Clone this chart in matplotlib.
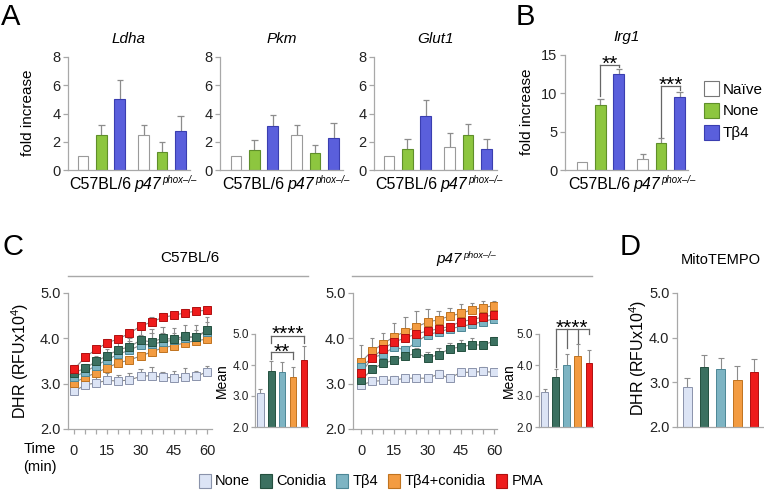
import matplotlib
matplotlib.use('Agg')
import matplotlib.pyplot as plt
import numpy as np
from matplotlib.patches import Patch
from matplotlib.lines import Line2D

plt.rcParams['font.family'] = ['Liberation Sans', 'DejaVu Sans']
plt.rcParams['mathtext.fontset'] = 'custom'
plt.rcParams['mathtext.rm'] = 'Liberation Sans'
plt.rcParams['mathtext.it'] = 'Liberation Sans:italic'
plt.rcParams['mathtext.bf'] = 'Liberation Sans:bold'

# ---------------- data ----------------
groups = ['C57BL/6', 'p47', 'phox–/–']   # second group: p47 with superscript phox–/–
treat_A = ['Naïve', 'None', 'Tβ4']
ldha_mean = [1.0, 2.5, 5.0, 2.5, 1.3, 2.75]
ldha_err = [0.0, 0.7, 1.4, 0.7, 0.7, 1.05]
pkm_mean = [1.0, 1.4, 3.15, 2.5, 1.2, 2.25]
pkm_err = [0.0, 0.7, 0.75, 0.7, 0.55, 1.05]
glut1_mean = [1.0, 1.5, 3.8, 1.65, 2.5, 1.5]
glut1_err = [0.0, 0.7, 1.15, 0.95, 0.75, 0.7]
irg1_mean = [1.0, 8.5, 12.5, 1.5, 3.5, 9.5]
irg1_err = [0.0, 0.7, 0.7, 0.65, 0.65, 0.7]

treat_C = ['None', 'Conidia', 'Tβ4', 'Tβ4+conidia', 'PMA']
time_min = [0, 5, 10, 15, 20, 25, 30, 35, 40, 45, 50, 55, 60]
time_ticks = [0, 15, 30, 45, 60]

c57_none = [2.83, 2.97, 3.02, 3.07, 3.06, 3.08, 3.16, 3.18, 3.14, 3.13, 3.14, 3.16, 3.26]
c57_con = [3.24, 3.34, 3.49, 3.62, 3.75, 3.81, 3.96, 3.92, 4.00, 3.98, 4.05, 4.02, 4.19]
c57_tb4 = [3.15, 3.26, 3.40, 3.53, 3.65, 3.74, 3.85, 3.87, 3.92, 3.96, 4.00, 4.04, 4.15]
c57_tbc = [3.02, 3.14, 3.24, 3.35, 3.46, 3.52, 3.61, 3.70, 3.79, 3.84, 3.90, 3.95, 3.98]
c57_pma = [3.32, 3.58, 3.76, 3.90, 3.99, 4.11, 4.27, 4.36, 4.46, 4.51, 4.56, 4.60, 4.62]
c57_none_e = [0.06, 0.08, 0.16, 0.16, 0.13, 0.15, 0.16, 0.19, 0.11, 0.15, 0.20, 0.12, 0.13]
c57_con_e = [0.10, 0.10, 0.12, 0.15, 0.18, 0.20, 0.25, 0.28, 0.25, 0.25, 0.25, 0.28, 0.28]
c57_tb4_e = [0.08, 0.08, 0.10, 0.12, 0.15, 0.20, 0.22, 0.25, 0.20, 0.15, 0.15, 0.15, 0.20]
c57_tbc_e = [0.08, 0.06, 0.06, 0.06, 0.06, 0.05, 0.06, 0.06, 0.05, 0.05, 0.05, 0.05, 0.05]
c57_pma_e = [0.10, 0.06, 0.08, 0.08, 0.06, 0.05, 0.06, 0.12, 0.10, 0.08, 0.08, 0.07, 0.06]

p47_none = [2.97, 3.05, 3.07, 3.08, 3.12, 3.12, 3.12, 3.21, 3.12, 3.25, 3.25, 3.27, 3.25]
p47_con = [3.07, 3.32, 3.45, 3.52, 3.61, 3.67, 3.57, 3.64, 3.77, 3.81, 3.86, 3.85, 3.94]
p47_tb4 = [3.37, 3.57, 3.65, 3.81, 3.74, 3.92, 4.08, 4.14, 4.21, 4.26, 4.31, 4.37, 4.43]
p47_tbc = [3.48, 3.72, 3.88, 4.04, 4.15, 4.25, 4.36, 4.41, 4.49, 4.55, 4.63, 4.68, 4.72]
p47_pma = [3.23, 3.57, 3.77, 3.92, 4.01, 4.10, 4.16, 4.21, 4.26, 4.37, 4.41, 4.47, 4.52]
p47_none_e = [0.08, 0.10, 0.08, 0.08, 0.08, 0.08, 0.08, 0.10, 0.08, 0.06, 0.06, 0.10, 0.06]
p47_con_e = [0.10, 0.10, 0.12, 0.10, 0.10, 0.12, 0.12, 0.15, 0.12, 0.15, 0.15, 0.10, 0.10]
p47_tb4_e = [0.10, 0.08, 0.12, 0.10, 0.08, 0.10, 0.08, 0.08, 0.06, 0.06, 0.06, 0.06, 0.06]
p47_tbc_e = [0.37, 0.28, 0.24, 0.29, 0.32, 0.36, 0.29, 0.20, 0.19, 0.20, 0.16, 0.15, 0.11]
p47_pma_e = [0.08, 0.08, 0.08, 0.08, 0.08, 0.07, 0.07, 0.07, 0.07, 0.07, 0.07, 0.07, 0.07]

c57_mean = [3.10, 3.82, 3.77, 3.60, 4.17]
c57_mean_e = [0.12, 0.30, 0.32, 0.33, 0.43]
p47_mean = [3.12, 3.62, 4.00, 4.28, 4.08]
p47_mean_e = [0.09, 0.24, 0.35, 0.40, 0.40]
mito_mean = [2.89, 3.35, 3.30, 3.05, 3.24]
mito_mean_e = [0.20, 0.27, 0.25, 0.32, 0.29]

# ---------------- styles ----------------
W, H = 764, 493
fig = plt.figure(figsize=(W / 100, H / 100), dpi=100)
GREY = '#a8a8a8'
ERR = '#8c8c8c'
A_face = ['white', '#8DC63F', '#5A5FDC']
A_edge = ['#9a9a9a', '#5f8f2a', '#3a3eb0']
C_face = ['#DCE4F5', '#3B7060', '#7DB4C3', '#F39C42', '#EE1C1C']
C_edge = ['#8a93ab', '#24503f', '#4d8796', '#c0731f', '#b01010']


def add_ax(x0, y_top, x1, y_bot):
    return fig.add_axes([x0 / W, 1 - y_bot / H, (x1 - x0) / W, (y_bot - y_top) / H])


def ftext(x, y, s, **kw):
    return fig.text(x / W, 1 - y / H, s, **kw)


def style(ax, ysize=10.5):
    for s in ['top', 'right']:
        ax.spines[s].set_visible(False)
    for s in ['left', 'bottom']:
        ax.spines[s].set_color(GREY)
        ax.spines[s].set_linewidth(0.9)
    ax.tick_params(axis='y', colors=GREY, labelcolor='#222222', length=3.5,
                   width=0.9, labelsize=ysize, pad=2)
    ax.patch.set_alpha(0)


def up_err(ax, x, y, e, half, lw=0.9):
    x = np.asarray(x, float); y = np.asarray(y, float); e = np.asarray(e, float)
    m = e > 0
    ax.vlines(x[m], y[m], y[m] + e[m], color=ERR, lw=lw, zorder=1)
    ax.hlines(y[m] + e[m], x[m] - half, x[m] + half, color=ERR, lw=lw, zorder=1)


def stars(ax, x, yc, s, fs=15):
    ax.annotate(s, xy=(x, yc), xytext=(0, -8.5), textcoords='offset points',
                ha='center', va='baseline', fontsize=fs, annotation_clip=False)


def bracket(ax, xs, bottoms, ytop):
    ax.plot([xs[0], xs[-1]], [ytop, ytop], color='#666666', lw=0.9, clip_on=False)
    for xx, yb in zip(xs, bottoms):
        ax.plot([xx, xx], [yb, ytop], color='#666666', lw=0.9, clip_on=False)


def p47_label(ax, xy, xycoords, dy, fs):
    ax.annotate(groups[1], xy=xy, xycoords=xycoords, xytext=(0, dy),
                textcoords='offset points', ha='right', va='baseline',
                fontsize=fs, style='italic', annotation_clip=False)
    ax.annotate(groups[2], xy=xy, xycoords=xycoords, xytext=(0.6, dy + 0.36 * fs),
                textcoords='offset points', ha='left', va='baseline',
                fontsize=fs * 0.6, style='italic', annotation_clip=False)


pos = np.array([0, 1, 2, 3.3, 4.3, 5.3])
UNIT = 18.4


def bar_panel(x0, x1, y_top, c0, means, errs, ymax, yticks, title):
    ax = add_ax(x0, y_top, x1, 170)
    style(ax)
    left = -(c0 - x0) / UNIT
    right = left + (x1 - x0) / UNIT
    ax.bar(pos, means, width=0.58, color=A_face * 2, edgecolor=A_edge * 2,
           linewidth=0.8, zorder=2)
    up_err(ax, pos, means, errs, 0.17)
    ax.set_xlim(left, right)
    ax.set_ylim(0, ymax)
    ax.set_yticks(yticks)
    ax.set_xticks([])
    ax.annotate(groups[0], xy=(0.92, 0), xycoords=('data', 'axes fraction'),
                xytext=(0, -13.5), textcoords='offset points', ha='center',
                va='baseline', fontsize=11.5, annotation_clip=False)
    p47_label(ax, (4.25, 0), ('data', 'axes fraction'), -13.5, 11.5)
    ax.set_title(title, fontsize=11, style='italic', pad=10)
    return ax


# ---------------- Panel A ----------------
axL = bar_panel(68, 190, 57, 83, ldha_mean, ldha_err, 8, [0, 2, 4, 6, 8], 'Ldha')
axP = bar_panel(220, 343, 57, 236, pkm_mean, pkm_err, 8, [0, 2, 4, 6, 8], 'Pkm')
axG = bar_panel(374, 497, 57, 389, glut1_mean, glut1_err, 8, [0, 2, 4, 6, 8], 'Glut1')
ftext(28, 113, 'fold increase', rotation=90, ha='center', va='center', fontsize=11)

# ---------------- Panel B ----------------
axI = bar_panel(565, 688, 55, 582, irg1_mean, irg1_err, 15, [0, 5, 10, 15], 'Irg1')
ftext(527, 112, 'fold increase', rotation=90, ha='center', va='center', fontsize=11)
bracket(axI, [1, 2], [9.6, 13.4], 13.7)
stars(axI, 1.5, 14.6, '**')
bracket(axI, [4.3, 5.3], [4.3, 10.4], 11.0)
stars(axI, 4.8, 11.9, '***')
hB = [Patch(facecolor=A_face[i], edgecolor=A_edge[i] if i else '#777777', lw=0.8)
      for i in range(3)]
fig.legend(hB, treat_A, loc='upper left', bbox_to_anchor=(704 / W, 1 - 81 / H),
           frameon=False, fontsize=11, handlelength=1.0, handleheight=1.1,
           handletextpad=0.25, labelspacing=0.42, borderaxespad=0, borderpad=0)

# ---------------- Panel C ----------------
def time_panel(x0, x1, t0px, series, errs):
    ax = add_ax(x0, 293, x1, 429)
    style(ax, 10.5)
    scale = 133.0 / 60.0
    left = -(t0px - x0) / scale
    ax.set_xlim(left, left + (x1 - x0) / scale)
    ax.set_ylim(2.0, 5.0)
    ax.set_yticks([2.0, 3.0, 4.0, 5.0])
    ax.set_yticklabels(['2.0', '3.0', '4.0', '5.0'])
    ax.set_xticks(time_ticks)
    ax.set_xticks(time_min, minor=True)
    ax.tick_params(axis='x', which='both', colors=GREY, labelcolor='#222222',
                   length=3.5, width=0.9, labelsize=10.5, pad=7)
    order = [0, 3, 2, 1, 4]
    for k in order:
        up_err(ax, time_min, series[k], errs[k], 1.0, lw=0.8)
    for k in order:
        ax.plot(time_min, series[k], color='#8a8a8a', lw=0.8, zorder=3)
        ax.plot(time_min, series[k], ls='none', marker='s', ms=5.4,
                mfc=C_face[k], mec=C_edge[k], mew=0.7, zorder=4)
    return ax


def mean_panel(x0, x1, means, errs):
    ax = add_ax(x0, 334, x1, 427)
    style(ax, 8.5)
    xs = np.arange(5)
    ax.bar(xs, means, width=0.6, color=C_face, edgecolor=C_edge, linewidth=0.7, zorder=2)
    up_err(ax, xs, means, errs, 0.18, lw=0.8)
    ax.set_xlim(-0.5, 4.37)
    ax.set_ylim(2.0, 5.0)
    ax.set_yticks([2.0, 3.0, 4.0, 5.0])
    ax.set_yticklabels(['2.0', '3.0', '4.0', '5.0'])
    ax.tick_params(axis='y', length=3, pad=1.5)
    ax.set_xticks([])
    return ax


axT1 = time_panel(68, 212, 74,
                  [c57_none, c57_con, c57_tb4, c57_tbc, c57_pma],
                  [c57_none_e, c57_con_e, c57_tb4_e, c57_tbc_e, c57_pma_e])
axT2 = time_panel(353, 497, 361,
                  [p47_none, p47_con, p47_tb4, p47_tbc, p47_pma],
                  [p47_none_e, p47_con_e, p47_tb4_e, p47_tbc_e, p47_pma_e])
axM1 = mean_panel(255, 308, c57_mean, c57_mean_e)
axM2 = mean_panel(539, 593, p47_mean, p47_mean_e)

bracket(axM1, [1, 4], [4.72, 4.72], 4.92)
stars(axM1, 2.5, 5.2, '****')
bracket(axM1, [1, 3], [4.2, 4.2], 4.41)
stars(axM1, 2.0, 4.62, '**')
bracket(axM2, [1, 2, 3, 4], [3.95, 4.55, 4.72, 5.0], 5.16)
stars(axM2, 2.5, 5.38, '****')

ftext(20, 361, 'DHR (RFUx10$^{4}$)', rotation=90, ha='center', va='center', fontsize=11.5)
ftext(222, 381, 'Mean', rotation=90, ha='center', va='center', fontsize=10)
ftext(509, 381, 'Mean', rotation=90, ha='center', va='center', fontsize=10)
ftext(40, 449, 'Time', ha='center', va='center', fontsize=10.5)
ftext(40, 467, '(min)', ha='center', va='center', fontsize=10.5)

ftext(190, 258, groups[0], ha='center', va='center', fontsize=11)
p47_label(axT2, (462 / W, 1 - 263.5 / H), 'figure fraction', 0, 11)
fig.add_artist(Line2D([68 / W, 308 / W], [1 - 276 / H] * 2, color=GREY, lw=1))
fig.add_artist(Line2D([352 / W, 592 / W], [1 - 276 / H] * 2, color=GREY, lw=1))

# ---------------- Panel D ----------------
axD = add_ax(677, 293, 763, 427)
style(axD, 10.5)
xsD = np.arange(5)
axD.bar(xsD, mito_mean, width=0.52, color=C_face, edgecolor=C_edge, linewidth=0.7, zorder=2)
up_err(axD, xsD, mito_mean, mito_mean_e, 0.18, lw=0.8)
axD.set_xlim(-0.63, 4.55)
axD.set_ylim(2.0, 5.0)
axD.set_yticks([2.0, 3.0, 4.0, 5.0])
axD.set_yticklabels(['2.0', '3.0', '4.0', '5.0'])
axD.set_xticks([])
ftext(721, 260, 'MitoTEMPO', ha='center', va='center', fontsize=10.5)
ftext(638, 358, 'DHR (RFUx10$^{4}$)', rotation=90, ha='center', va='center', fontsize=11.5)

# ---------------- bottom legend ----------------
hC = [Patch(facecolor=C_face[i], edgecolor=C_edge[i], lw=0.8) for i in range(5)]
fig.legend(hC, treat_C, loc='center left', bbox_to_anchor=(199 / W, 1 - 481 / H),
           ncol=5, frameon=False, fontsize=10.5, handlelength=0.8, handleheight=1.1,
           handletextpad=0.3, columnspacing=0.7, borderaxespad=0, borderpad=0)

# ---------------- panel letters ----------------
ftext(1, 17, 'A', fontsize=21, va='center', ha='left')
ftext(516, 17, 'B', fontsize=21, va='center', ha='left')
ftext(2, 247, 'C', fontsize=21, va='center', ha='left')
ftext(620, 247, 'D', fontsize=21, va='center', ha='left')

fig.savefig('out.png', dpi=100)
